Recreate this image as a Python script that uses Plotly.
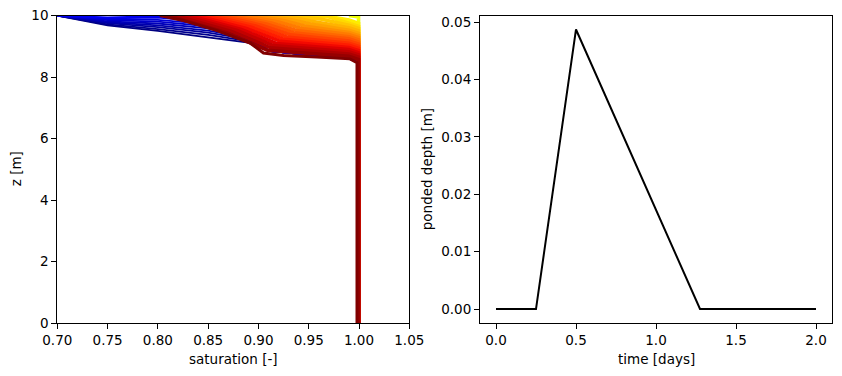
import numpy as np
import plotly.graph_objects as go

# ---------------- data ----------------
# Early profiles (blue, before rain)
blue_times = [0.0, 0.025, 0.05, 0.075, 0.1, 0.125, 0.15, 0.175, 0.2]
blue_sat = [0.70, 0.75, 0.80, 0.85, 0.89, 0.91, 0.99, 1.0, 1.0]
blue_z = [
    [10.0, 9.68, 9.50, 9.30, 9.12, 8.85, 8.60, 8.50, 0.0],
    [10.0, 9.71, 9.56, 9.37, 9.17, 8.85, 8.60, 8.50, 0.0],
    [10.0, 9.75, 9.62, 9.44, 9.22, 8.85, 8.60, 8.50, 0.0],
    [10.0, 9.78, 9.68, 9.51, 9.27, 8.85, 8.60, 8.50, 0.0],
    [10.0, 9.81, 9.74, 9.58, 9.32, 8.85, 8.60, 8.50, 0.0],
    [10.0, 9.85, 9.80, 9.65, 9.37, 8.85, 8.60, 8.50, 0.0],
    [10.0, 9.88, 9.86, 9.72, 9.42, 8.85, 8.60, 8.50, 0.0],
    [10.0, 9.91, 9.93, 9.79, 9.47, 8.85, 8.60, 8.50, 0.0],
    [10.0, 9.94, 9.98, 9.86, 9.52, 8.85, 8.60, 8.50, 0.0],
]

# Ponding period profiles (fully saturated)
pond_times = [0.30, 0.55, 0.80, 1.05, 1.24]
pond_sat = [1.0, 1.0]
pond_z = [0.0, 10.0]

# Drainage profiles (yellow -> dark red)
drain_times = [1.28, 1.32, 1.36, 1.40, 1.44, 1.48, 1.52, 1.56, 1.60, 1.64,
               1.68, 1.72, 1.76, 1.80, 1.84, 1.88, 1.92, 1.96, 2.00]
drain_sat = [
    [0.990, 0.9995, 0.9995],
    [0.965, 0.990, 0.9995, 0.9995],
    [0.945, 0.970, 0.990, 0.9995, 0.9995],
    [0.930, 0.950, 0.963, 0.990, 0.9995, 0.9995],
    [0.915, 0.940, 0.956, 0.990, 0.9995, 0.9995],
    [0.905, 0.933, 0.952, 0.990, 0.9995, 0.9995],
    [0.895, 0.926, 0.947, 0.990, 0.9995, 0.9995],
    [0.885, 0.920, 0.943, 0.990, 0.9995, 0.9995],
    [0.875, 0.913, 0.938, 0.990, 0.9995, 0.9995],
    [0.867, 0.908, 0.935, 0.990, 0.9995, 0.9995],
    [0.860, 0.903, 0.932, 0.990, 0.9995, 0.9995],
    [0.852, 0.898, 0.928, 0.990, 0.9995, 0.9995],
    [0.845, 0.893, 0.925, 0.990, 0.9995, 0.9995],
    [0.838, 0.888, 0.922, 0.990, 0.9995, 0.9995],
    [0.831, 0.883, 0.918, 0.990, 0.9995, 0.9995],
    [0.824, 0.879, 0.915, 0.990, 0.9995, 0.9995],
    [0.817, 0.874, 0.912, 0.990, 0.9995, 0.9995],
    [0.810, 0.869, 0.909, 0.990, 0.9995, 0.9995],
    [0.802, 0.825, 0.859, 0.892, 0.905, 0.925, 0.958, 0.991, 0.998, 0.998],
]
drain_z = [
    [10.0, 9.95, 0.0],
    [10.0, 9.85, 9.75, 0.0],
    [10.0, 9.95, 9.75, 9.65, 0.0],
    [10.0, 9.94, 9.88, 9.68, 9.58, 0.0],
    [10.0, 9.90, 9.80, 9.60, 9.50, 0.0],
    [10.0, 9.86, 9.72, 9.52, 9.42, 0.0],
    [10.0, 9.825, 9.65, 9.45, 9.35, 0.0],
    [10.0, 9.79, 9.58, 9.38, 9.28, 0.0],
    [10.0, 9.755, 9.51, 9.31, 9.21, 0.0],
    [10.0, 9.72, 9.44, 9.24, 9.14, 0.0],
    [10.0, 9.685, 9.37, 9.17, 9.07, 0.0],
    [10.0, 9.65, 9.30, 9.10, 9.00, 0.0],
    [10.0, 9.615, 9.23, 9.03, 8.93, 0.0],
    [10.0, 9.58, 9.16, 8.96, 8.86, 0.0],
    [10.0, 9.545, 9.09, 8.89, 8.79, 0.0],
    [10.0, 9.51, 9.02, 8.82, 8.72, 0.0],
    [10.0, 9.475, 8.95, 8.75, 8.65, 0.0],
    [10.0, 9.435, 8.87, 8.67, 8.57, 0.0],
    [10.0, 9.84, 9.51, 9.10, 8.78, 8.70, 8.65, 8.59, 8.47, 0.0],
]

# Ponded depth time series
time_days = [0.0, 0.25, 0.5, 1.275, 2.0]
ponded_depth = [0.0, 0.0, 0.0487, 0.0, 0.0]

sat_ticks = [0.70, 0.75, 0.80, 0.85, 0.90, 0.95, 1.00, 1.05]
z_ticks = [0, 2, 4, 6, 8, 10]
time_ticks = [0.0, 0.5, 1.0, 1.5, 2.0]
depth_ticks = [0.00, 0.01, 0.02, 0.03, 0.04, 0.05]
T_MAX = 2.0

# ---------------- styling helpers ----------------
def jet(t):
    r = np.interp(t, [0, 0.35, 0.66, 0.89, 1], [0, 0, 1, 1, 0.5])
    g = np.interp(t, [0, 0.125, 0.375, 0.64, 0.91, 1], [0, 0, 1, 1, 0, 0])
    b = np.interp(t, [0, 0.11, 0.34, 0.65, 1], [0.5, 1, 1, 0, 0])
    return "rgb(%d,%d,%d)" % (round(r * 255), round(g * 255), round(b * 255))

FONT = "DejaVu Sans"
FS = 13.5

fig = go.Figure()

for t, zz in zip(blue_times, blue_z):
    fig.add_trace(go.Scatter(x=blue_sat, y=zz, mode="lines",
                             line=dict(color=jet(t / T_MAX), width=1.8),
                             xaxis="x", yaxis="y", showlegend=False, hoverinfo="skip"))
for t in pond_times:
    fig.add_trace(go.Scatter(x=pond_sat, y=pond_z, mode="lines",
                             line=dict(color=jet(t / T_MAX), width=2),
                             xaxis="x", yaxis="y", showlegend=False, hoverinfo="skip"))
n_drain = len(drain_times)
for i, (t, ss, zz) in enumerate(zip(drain_times, drain_sat, drain_z)):
    w = 3.0 if i == n_drain - 1 else 3.6
    fig.add_trace(go.Scatter(x=ss, y=zz, mode="lines",
                             line=dict(color=jet(t / T_MAX), width=w),
                             xaxis="x", yaxis="y", showlegend=False, hoverinfo="skip"))

fig.add_trace(go.Scatter(x=time_days, y=ponded_depth, mode="lines",
                         line=dict(color="black", width=2),
                         xaxis="x2", yaxis="y2", showlegend=False))

W, H = 842, 376
L1, R1 = 57.3, 409.3
L2, R2 = 480.0, 832.0
TOP, BOT = 15.5, 323.0
ydom = [(H - BOT) / H, (H - TOP) / H]

axis_common = dict(showline=True, linecolor="black", linewidth=1.1, mirror=True,
                   ticks="outside", ticklen=5, tickwidth=1.1, tickcolor="black",
                   showgrid=False, zeroline=False, automargin=False,
                   tickfont=dict(family=FONT, size=FS, color="black"))

dmax = max(ponded_depth)
fig.update_layout(
    template="none",
    width=W, height=H,
    margin=dict(l=0, r=0, t=0, b=0, pad=0, autoexpand=False),
    paper_bgcolor="white", plot_bgcolor="white",
    xaxis=dict(domain=[L1 / W, R1 / W], range=[0.70, 1.05], tickvals=sat_ticks,
               tickformat=".2f", anchor="y", **axis_common),
    yaxis=dict(domain=ydom, range=[0, 10], tickvals=z_ticks, anchor="x", **axis_common),
    xaxis2=dict(domain=[L2 / W, R2 / W], range=[-0.1, 2.1], tickvals=time_ticks,
                tickformat=".1f", anchor="y2", **axis_common),
    yaxis2=dict(domain=ydom, range=[-0.05 * dmax, 1.05 * dmax], tickvals=depth_ticks,
                tickformat=".2f", anchor="x2", **axis_common),
)

ann = dict(xref="paper", yref="paper", showarrow=False, xanchor="center", yanchor="middle",
           font=dict(family=FONT, size=FS, color="black"))
fig.add_annotation(text="saturation [-]", x=(L1 + R1) / 2 / W, y=(H - 359) / H, **ann)
fig.add_annotation(text="time [days]", x=(L2 + R2) / 2 / W, y=(H - 359) / H, **ann)
fig.add_annotation(text="z [m]", x=16 / W, y=(H - (TOP + BOT) / 2) / H, textangle=-90, **ann)
fig.add_annotation(text="ponded depth [m]", x=427 / W, y=(H - (TOP + BOT) / 2) / H,
                   textangle=-90, **ann)

fig.write_html("out.html",
               config={"displayModeBar": False},
               post_script="document.body.style.margin='0';document.body.style.overflow='hidden';")
